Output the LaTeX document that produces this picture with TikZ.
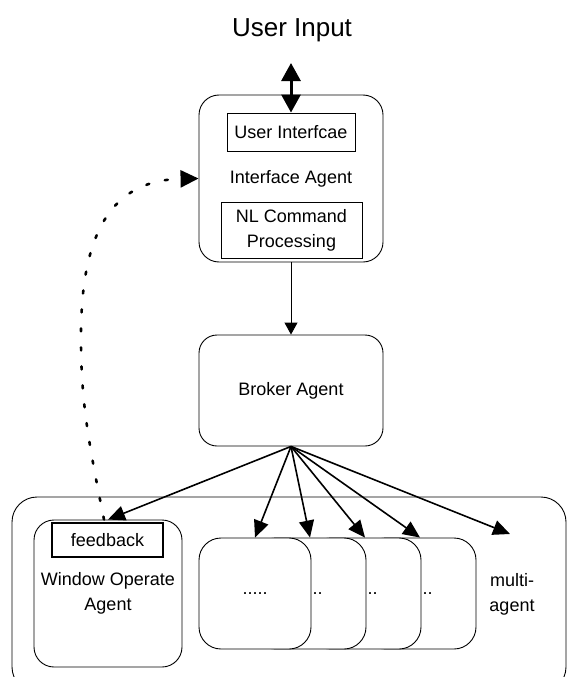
\documentclass[tikz,border=0pt]{standalone}
\usepackage{fontspec}
\setmainfont{Liberation Sans}
\usetikzlibrary{arrows.meta}
\begin{document}
\begin{tikzpicture}[x=1pt,y=-1pt,
  every node/.style={font=\fontsize{18}{25}\selectfont, align=center, inner sep=0pt},
  agent/.style={draw, rounded corners=20pt, line width=0.9pt, fill=white},
  inbox/.style={draw, line width=0.9pt, fill=white},
  stackbox/.style={agent, rounded corners=22pt, minimum width=112pt, minimum height=111pt},
  fan/.style={line width=1.6pt, -{Triangle[length=17pt,width=15pt]}},
  feedbackloop/.style={line width=2.6pt, dash pattern=on 3pt off 16pt, line cap=round,
    -{Triangle[length=18pt,width=17pt]}}
]
\useasboundingbox (0,0) rectangle (568,677);
\clip (0,0) rectangle (568,677);

% top: user input and interface agent
\node[font=\fontsize{26}{30}\selectfont] (title) at (292,30) {User Input};
\coordinate (io) at (291,63);
\node[agent, minimum width=184pt, minimum height=167pt] (iface) at (291,178.5) {Interface Agent};
\node[inbox, minimum width=128pt, minimum height=38pt] (ui) at (291,132) {User Interfcae};
\node[inbox, minimum width=141pt, minimum height=56pt] (nl) at (291.5,230) {NL Command\\Processing};

% broker
\node[agent, rounded corners=18pt, minimum width=184pt, minimum height=111pt] (broker) at (291,390.5) {Broker Agent};

% lower container
\node[agent, rounded corners=25pt, minimum width=554pt, minimum height=195pt] (outer) at (289,594.5) {};
\node[agent, minimum width=148pt, minimum height=147pt] (wo) at (108,593.5) {Window Operate\\Agent};
\node[draw, line width=1.8pt, fill=white, minimum width=111pt, minimum height=34pt] (fb) at (107.5,540) {feedback};

% stacked agents, back to front
\node[stackbox] (s4) at (420,593.5) {.....};
\node[stackbox] (s3) at (365,593.5) {.....};
\node[stackbox] (s2) at (310,593.5) {.....};
\node[stackbox] (s1) at (255,593.5) {.....};
\node (ma) at (512,594.5) {multi-\\agent};
\coordinate (matip) at (510,534);

% connectors
\draw[line width=3pt, {Triangle[length=18pt,width=19pt]}-{Triangle[length=18pt,width=19pt]}] (io) -- (ui.north);
\draw[line width=0.9pt, -{Triangle[length=12pt,width=13pt]}] (iface.south) -- (broker.north);
\foreach \t in {wo.north, s1.north, s2.north, s3.north, s4.north, matip}
  \draw[fan] (broker.south) -- (\t);
\draw[feedbackloop] ([xshift=-4pt]wo.north) .. controls (88,440) and (81,400) .. (81,340)
  .. controls (80,220) and (120,180) .. (iface.west);
\end{tikzpicture}
\end{document}
